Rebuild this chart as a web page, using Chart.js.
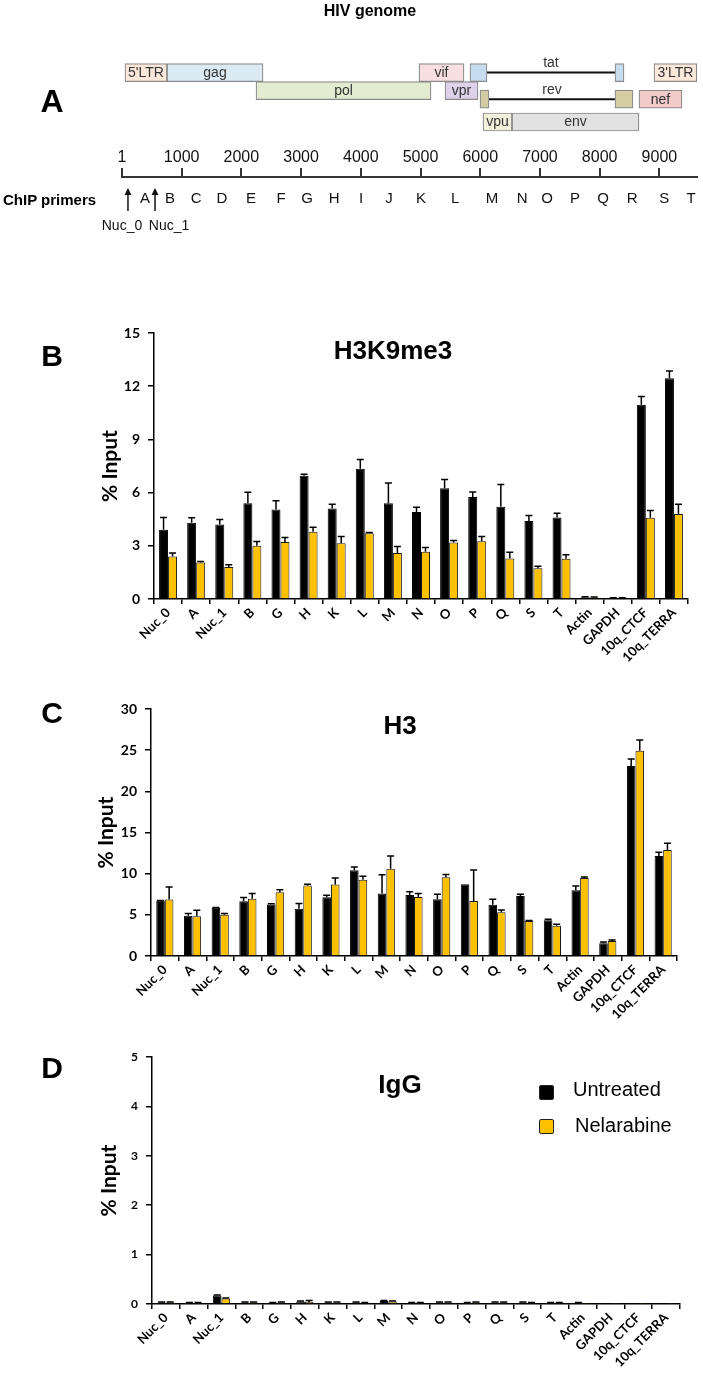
<!DOCTYPE html>
<html><head><meta charset="utf-8">
<script src="https://cdn.jsdelivr.net/npm/chart.js@4.4.1/dist/chart.umd.min.js"></script>
<style>
html,body{margin:0;padding:0;background:#fff;}
#wrap{position:relative;width:703px;height:1373px;overflow:hidden;background:#fff;}
canvas{position:absolute;left:0;}
.t{position:absolute;white-space:nowrap;line-height:1;transform:translate(-50%,-50%);font-family:"Liberation Sans",Arial,sans-serif;color:#000;}
.l{position:absolute;white-space:nowrap;line-height:1;transform:translate(0,-50%);font-family:"Liberation Sans",Arial,sans-serif;color:#000;}
.sq{position:absolute;width:13px;height:13px;border:1px solid #222;border-radius:2px;}
</style></head><body><div id="wrap">
<canvas id="genes" width="703" height="140" style="top:0"></canvas>
<canvas id="ruler" width="703" height="120" style="top:140px"></canvas>
<canvas id="chartB" width="703" height="390" style="top:300px"></canvas>
<canvas id="chartC" width="703" height="340" style="top:690px"></canvas>
<canvas id="chartD" width="703" height="343" style="top:1030px"></canvas>

<div class="t" style="left:370px;top:11px;font-size:16px;font-weight:bold">HIV genome</div>
<div class="t" style="left:52px;top:101px;font-size:32px;font-weight:bold">A</div>
<div class="l" style="left:3px;top:199px;font-size:15px;font-weight:bold">ChIP primers</div>
<div class="t" style="left:52px;top:356px;font-size:30px;font-weight:bold">B</div>
<div class="t" style="left:52px;top:713px;font-size:30px;font-weight:bold">C</div>
<div class="t" style="left:52px;top:1068px;font-size:30px;font-weight:bold">D</div>
<div class="t" style="left:393px;top:350px;font-size:26px;font-weight:bold">H3K9me3</div>
<div class="t" style="left:400px;top:725px;font-size:26px;font-weight:bold">H3</div>
<div class="t" style="left:400px;top:1084px;font-size:26px;font-weight:bold">IgG</div>
<div class="sq" style="left:539px;top:1085px;background:#000"></div>
<div class="sq" style="left:539px;top:1119px;background:#FFC000"></div>
<div class="l" style="left:573px;top:1089px;font-size:20px">Untreated</div>
<div class="l" style="left:575px;top:1125px;font-size:20px">Nelarabine</div>
</div>
<script>
// ---------- Panel A data ----------
const geneNames = ["5'LTR","gag","pol","vif","vpr","tat","tat","3'LTR","rev","rev","nef","vpu","env"];
const geneStart = [51, 755, 2246, 4976, 5412, 5830, 8259, 8912, 5998, 8259, 8661, 6048, 6534];
const geneEnd   = [755, 2363, 5177, 5730, 5964, 6115, 8410, 9630, 6148, 8560, 9381, 6534, 8661];
const geneRow   = [1, 1, 2, 1, 2, 1, 1, 1, 3, 3, 3, 4, 4];
const splicedGenes = ["tat", "rev"];
const rulerTicks = [1, 1000, 2000, 3000, 4000, 5000, 6000, 7000, 8000, 9000];
const primerLabels = ["A","B","C","D","E","F","G","H","I","J","K","L","M","N","O","P","Q","R","S","T"];
const primerPos = [386, 805, 1241, 1676, 2162, 2664, 3100, 3552, 4004, 4473, 5009, 5579, 6199, 6701, 7120, 7589, 8058, 8544, 9080, 9532];
const nucLabels = ["Nuc_0", "Nuc_1"];
const nucPos = [101, 554];

// ---------- Panels B-D data ----------
const categories = ["Nuc_0","A","Nuc_1","B","G","H","K","L","M","N","O","P","Q","S","T","Actin","GAPDH","10q_CTCF","10q_TERRA"];
const h3k9Untreated    = [3.9, 4.3, 4.2, 5.4, 5.05, 6.95, 5.1, 7.35, 5.4, 4.9, 6.25, 5.75, 5.2, 4.4, 4.6, 0.1, 0.05, 10.95, 12.45];
const h3k9UntreatedErr = [0.7, 0.28, 0.28, 0.62, 0.49, 0.09, 0.24, 0.52, 1.14, 0.28, 0.49, 0.28, 1.26, 0.31, 0.23, 0.03, 0.02, 0.47, 0.41];
const h3k9Nelarabine    = [2.4, 2.06, 1.8, 3.0, 3.22, 3.79, 3.15, 3.71, 2.59, 2.66, 3.19, 3.26, 2.29, 1.73, 2.27, 0.08, 0.05, 4.58, 4.8];
const h3k9NelarabineErr = [0.19, 0.06, 0.13, 0.24, 0.25, 0.26, 0.38, 0.04, 0.37, 0.24, 0.11, 0.27, 0.35, 0.11, 0.22, 0.03, 0.02, 0.41, 0.54];
const h3Untreated    = [6.7, 4.88, 5.85, 6.65, 6.25, 5.73, 7.14, 10.4, 7.6, 7.4, 6.9, 8.7, 6.23, 7.29, 4.33, 8.0, 1.54, 23.08, 12.15];
const h3UntreatedErr = [0.05, 0.28, 0.05, 0.45, 0.1, 0.64, 0.24, 0.4, 2.28, 0.4, 0.6, 0, 0.65, 0.2, 0.12, 0.5, 0.16, 0.85, 0.45];
const h3Nelarabine    = [6.85, 4.84, 5.0, 6.94, 7.74, 8.55, 8.67, 9.27, 10.6, 7.18, 9.55, 6.68, 5.3, 4.25, 3.68, 9.47, 1.82, 24.94, 12.87];
const h3NelarabineErr = [1.54, 0.72, 0.16, 0.64, 0.32, 0.15, 0.81, 0.41, 1.54, 0.4, 0.35, 3.77, 0.29, 0.05, 0.17, 0.13, 0.12, 1.29, 0.81];
const iggUntreated    = [0.03, 0.02, 0.17, 0.03, 0.02, 0.05, 0.03, 0.03, 0.06, 0.02, 0.03, 0.02, 0.03, 0.03, 0.02, 0.02, 0.01, 0.01, 0.01];
const iggUntreatedErr = [0.01, 0.01, 0.01, 0.01, 0.01, 0.01, 0.01, 0.01, 0.01, 0.01, 0.01, 0.01, 0.01, 0.01, 0.01, 0.01, 0, 0, 0];
const iggNelarabine    = [0.03, 0.02, 0.11, 0.03, 0.03, 0.04, 0.03, 0.02, 0.05, 0.02, 0.03, 0.03, 0.03, 0.02, 0.02, 0.01, 0.01, 0.01, 0.01];
const iggNelarabineErr = [0.01, 0.01, 0.01, 0.01, 0.01, 0.03, 0.01, 0.01, 0.01, 0.01, 0.01, 0.01, 0.01, 0.01, 0.01, 0, 0, 0, 0];

// ---------- styles ----------
const ROW_LANE = {1: 3.63, 2: 4.53, 3: 4.96, 4: 6.1};
const GENE_COLORS = {"5'LTR":"#fbe8da", gag:"#dcebf3", pol:"#e3ebd0", vif:"#f7e0df", vpr:"#ddd2ea", tat:"#c8dcf0", "3'LTR":"#fbe8da", rev:"#d4cda3", nef:"#f2caca", vpu:"#f1f1dc", env:"#e2e2e2"};
const ARIAL = '"Liberation Sans", Arial, sans-serif';
Chart.defaults.font.family = 'Lato, "Open Sans", sans-serif';
Chart.defaults.color = '#000';

// ---------- Panel A: gene boxes ----------
const spliceLines = splicedGenes.map(name => {
  const idx = geneNames.map((n, i) => n === name ? i : -1).filter(i => i >= 0);
  return {
    type: 'line', label: name,
    data: [{x: geneEnd[idx[0]], y: ROW_LANE[geneRow[idx[0]]]}, {x: geneStart[idx[1]], y: ROW_LANE[geneRow[idx[1]]]}],
    borderColor: '#111', borderWidth: 2, pointRadius: 0, fill: false, clip: false
  };
});
const geneLabelPlugin = {
  id: 'geneLabels',
  afterDatasetsDraw(chart) {
    const ctx = chart.ctx;
    ctx.save();
    ctx.font = '14px ' + ARIAL; ctx.fillStyle = '#333'; ctx.textAlign = 'center'; ctx.textBaseline = 'middle';
    chart.getDatasetMeta(0).data.forEach((el, i) => {
      if (splicedGenes.includes(geneNames[i])) return;
      ctx.fillText(geneNames[i], (el.x + el.base) / 2, el.y + 0.5);
    });
    for (let d = 1; d < chart.data.datasets.length; d++) {
      const pts = chart.getDatasetMeta(d).data;
      ctx.fillText(chart.data.datasets[d].label, (pts[0].x + pts[1].x) / 2, pts[0].y - 9);
    }
    ctx.restore();
  }
};
new Chart(document.getElementById('genes'), {
  type: 'bar',
  data: {
    datasets: [{
      type: 'bar', label: 'genes',
      data: geneNames.map((n, i) => ({x: [geneStart[i], geneEnd[i]], y: ROW_LANE[geneRow[i]]})),
      backgroundColor: geneNames.map(n => GENE_COLORS[n]),
      borderColor: '#8a8a8a', borderWidth: 1.2, borderSkipped: false, barThickness: 18, clip: false
    }, ...spliceLines]
  },
  options: {
    indexAxis: 'y', responsive: false, animation: false, devicePixelRatio: 1,
    layout: {padding: {left: 122, right: 2, top: 0, bottom: 0}},
    plugins: {legend: {display: false}, tooltip: {enabled: false}},
    scales: {
      x: {type: 'linear', min: 1, max: 9700, display: false, offset: false},
      y: {type: 'linear', min: 0, max: 7, reverse: true, display: false, offset: false}
    }
  },
  plugins: [geneLabelPlugin]
});

// ---------- Panel A: ruler + primers ----------
const primerPlugin = {
  id: 'primers',
  afterDraw(chart) {
    const ctx = chart.ctx, xs = chart.scales.x;
    ctx.save();
    ctx.fillStyle = '#111'; ctx.textAlign = 'center'; ctx.textBaseline = 'middle';
    ctx.font = '15px ' + ARIAL;
    primerLabels.forEach((l, i) => ctx.fillText(l, xs.getPixelForValue(primerPos[i]), 59));
    ctx.font = '14px ' + ARIAL;
    const labelShift = [-6, 14];
    nucPos.forEach((p, i) => {
      const x = xs.getPixelForValue(p);
      ctx.strokeStyle = '#111'; ctx.lineWidth = 1.5;
      ctx.beginPath(); ctx.moveTo(x, 71); ctx.lineTo(x, 53); ctx.stroke();
      ctx.beginPath(); ctx.moveTo(x, 48); ctx.lineTo(x - 3.5, 55); ctx.lineTo(x + 3.5, 55); ctx.closePath(); ctx.fill();
      ctx.fillText(nucLabels[i], x + labelShift[i], 86);
    });
    ctx.restore();
  }
};
new Chart(document.getElementById('ruler'), {
  type: 'scatter',
  data: {datasets: []},
  options: {
    responsive: false, animation: false, devicePixelRatio: 1,
    layout: {padding: {left: 122, right: 6, top: 0, bottom: 0}},
    plugins: {legend: {display: false}, tooltip: {enabled: false}},
    scales: {
      x: {type: 'linear', position: 'top', min: 1, max: 9630,
        afterBuildTicks: s => { s.ticks = rulerTicks.map(v => ({value: v})); },
        grid: {drawOnChartArea: false, tickLength: 9, color: '#333', lineWidth: 2},
        border: {color: '#333', width: 2},
        ticks: {padding: 1, color: '#111', autoSkip: false, maxRotation: 0, font: {family: ARIAL, size: 16}, callback: v => String(v)},
        afterFit: s => { s.height = 37; }},
      y: {display: false, min: 0, max: 1}
    }
  },
  plugins: [primerPlugin]
});

// ---------- Panels B-D ----------
const errorBarPlugin = {
  id: 'errorBars',
  afterDatasetsDraw(chart) {
    const ctx = chart.ctx, ys = chart.scales.y;
    ctx.save();
    ctx.strokeStyle = '#000'; ctx.lineWidth = 1.5;
    chart.data.datasets.forEach((ds, di) => {
      chart.getDatasetMeta(di).data.forEach((el, i) => {
        const e = ds.errorValues[i];
        if (!e) return;
        const yT = ys.getPixelForValue(ds.data[i] + e);
        ctx.beginPath(); ctx.moveTo(el.x, el.y); ctx.lineTo(el.x, yT);
        ctx.moveTo(el.x - 3.5, yT); ctx.lineTo(el.x + 3.5, yT); ctx.stroke();
      });
    });
    ctx.restore();
  }
};
function barChart(id, c) {
  return new Chart(document.getElementById(id), {
    type: 'bar',
    data: {labels: categories, datasets: [
      {label: 'Untreated', data: c.u, errorValues: c.ue, backgroundColor: '#000', borderColor: '#000', borderWidth: 1, categoryPercentage: c.cp, barPercentage: 1},
      {label: 'Nelarabine', data: c.n, errorValues: c.ne, backgroundColor: '#FFC000', borderColor: '#1a1a1a', borderWidth: 1, categoryPercentage: c.cp, barPercentage: 1}
    ]},
    options: {
      responsive: false, animation: false, devicePixelRatio: 1,
      layout: {padding: {left: c.pl, right: c.pr, top: c.pt, bottom: 0}},
      plugins: {legend: {display: false}, tooltip: {enabled: false}},
      scales: {
        x: {
          grid: {display: true, drawOnChartArea: false, drawTicks: true, tickLength: 5, color: '#000', lineWidth: 1.5, offset: true},
          border: {display: true, color: '#000', width: 1.5},
          ticks: {autoSkip: false, maxRotation: 45, minRotation: 45, padding: 1, color: '#000', font: {weight: 'bold', size: c.xf}},
          afterFit: s => { s.height = c.xh; }
        },
        y: {
          min: 0, max: c.max,
          ticks: {stepSize: c.step, padding: 8, color: '#000', font: {weight: 'bold', size: c.yf}},
          grid: {drawOnChartArea: false, tickLength: 6, color: '#000', lineWidth: 1.5},
          border: {color: '#000', width: 1.5},
          title: {display: true, text: '% Input', color: '#000', font: {weight: 'bold', size: 21}, padding: {top: 4, bottom: 4}},
          afterFit: s => { s.width = c.yw; }
        }
      }
    },
    plugins: [errorBarPlugin]
  });
}
barChart('chartB', {u: h3k9Untreated, ue: h3k9UntreatedErr, n: h3k9Nelarabine, ne: h3k9NelarabineErr,
  max: 15, step: 3, pl: 94, yw: 60, pr: 15, pt: 33, xh: 91, cp: 0.64, xf: 13, yf: 14});
barChart('chartC', {u: h3Untreated, ue: h3UntreatedErr, n: h3Nelarabine, ne: h3NelarabineErr,
  max: 30, step: 5, pl: 90, yw: 61, pr: 26, pt: 19, xh: 74, cp: 0.62, xf: 13, yf: 14});
barChart('chartD', {u: iggUntreated, ue: iggUntreatedErr, n: iggNelarabine, ne: iggNelarabineErr,
  max: 5, step: 1, pl: 93, yw: 59, pr: 23, pt: 27, xh: 69, cp: 0.62, xf: 13, yf: 12});
</script>
</body></html>
